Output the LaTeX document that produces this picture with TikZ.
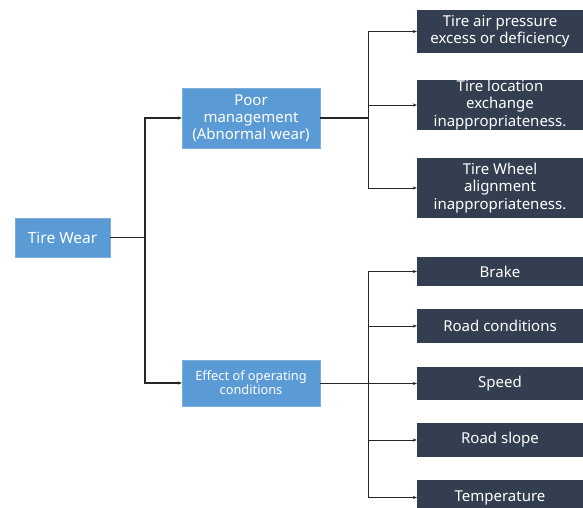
\documentclass[tikz,border=0pt]{standalone}
\usepackage{fontspec}
\setmainfont{Noto Sans}
\usetikzlibrary{arrows.meta}
\definecolor{bluebox}{HTML}{5B9BD5}
\definecolor{darkbox}{HTML}{333F50}
\begin{document}
\begin{tikzpicture}[x=1pt,y=-1pt,
  bluenode/.style={fill=bluebox,draw=bluebox!80!white,text=white,inner sep=0pt,align=center},
  darknode/.style={fill=darkbox,draw=none,text=white,inner sep=0pt,align=center,minimum width=166pt,
     font=\fontsize{15}{17.5}\selectfont},
  conn/.style={draw=black!85,line width=0.9pt},
  arr/.style={conn,-{Stealth[length=4pt,width=3.2pt]}}]
\clip (0,0) rectangle (583,508);
\fill[white] (0,0) rectangle (583,508);
% left boxes
\node[bluenode,minimum width=95pt,minimum height=39pt,font=\fontsize{15.5}{18}\selectfont] (tw) at (62.5,237.5) {Tire Wear};
\node[bluenode,minimum width=138pt,minimum height=60pt,font=\fontsize{15}{17}\selectfont] (poor) at (251,118) {Poor\\management\\(Abnormal wear)};
\node[bluenode,minimum width=138pt,minimum height=46pt,font=\fontsize{12.8}{14}\selectfont] (eff) at (251,383) {Effect of operating\\conditions};
% right boxes
\node[darknode,minimum height=43pt] (r1) at (500,31.5) {Tire air pressure\\excess or deficiency};
\node[darknode,minimum height=50pt] (r2) at (500,105) {Tire location\\exchange\\inappropriateness.};
\node[darknode,minimum height=60pt] (r3) at (500,188) {Tire Wheel\\alignment\\inappropriateness.};
\node[darknode,minimum height=29pt] (b1) at (500,271.5) {Brake};
\node[darknode,minimum height=34pt] (b2) at (500,326) {Road conditions};
\node[darknode,minimum height=33pt] (b3) at (500,383.5) {Speed};
\node[darknode,minimum height=34pt] (b4) at (500,440) {Road slope};
\node[darknode,minimum height=35pt] (b5) at (500,497.5) {Temperature};
% junctions
\coordinate (j1) at (145,237.5);
\coordinate (j2) at (368,118);
\coordinate (j3) at (368,383);
% connectors
\draw[conn,line width=1.2pt] (tw.east) -- (j1);
\draw[arr,line width=1.2pt] (j1) |- (poor.west);
\draw[arr,line width=1.2pt] (j1) |- (eff.west);
\draw[conn,line width=1.8pt] (poor.east) -- (j2);
\draw[arr] (j2) |- (r1.west);
\draw[arr] (j2) |- (r2.west);
\draw[arr] (j2) |- (r3.west);
\draw[conn] (eff.east) -- (j3);
\draw[arr] (j3) |- (b1.west);
\draw[arr] (j3) |- (b2.west);
\draw[arr] (j3) |- (b3.west);
\draw[arr,line width=0.6pt] (j3) |- (b4.west);
\draw[arr] (j3) |- (b5.west);
\end{tikzpicture}
\end{document}
